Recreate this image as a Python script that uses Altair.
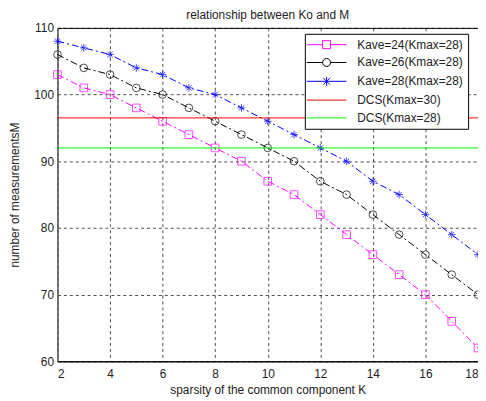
import altair as alt
import pandas as pd

k_values = list(range(2, 19))
kave24 = [103, 101, 100, 98, 96, 94, 92, 90, 87, 85, 82, 79, 76, 73, 70, 66, 62]
kave26 = [106, 104, 103, 101, 100, 98, 96, 94, 92, 90, 87, 85, 82, 79, 76, 73, 70]
kave28 = [108, 107, 106, 104, 103, 101, 100, 98, 96, 94, 92, 90, 87, 85, 82, 79, 76]
curve_names = ["Kave=24(Kmax=28)", "Kave=26(Kmax=28)", "Kave=28(Kmax=28)"]
dcs_names = ["DCS(Kmax=30)", "DCS(Kmax=28)"]
dcs_levels = [96.5, 92.0]
series_names = curve_names + dcs_names
colors = ["#ff00ff", "#000000", "#0000ff", "#ff0000", "#00ff00"]

STAR = "M-1,0H1M0,-1V1M-0.7,-0.7L0.7,0.7M-0.7,0.7L0.7,-0.7"
marker_shapes = ["square", "circle", STAR]

# legend symbols: line with marker in the middle (unit = 5px)
LEG_SQ = "M-4,0H-0.8M0.8,0H4M-0.8,-0.8H0.8V0.8H-0.8Z"
LEG_CI = "M-4,0H-0.8M0.8,0H4M0.8,0A0.8,0.8 0 1,1 -0.8,0A0.8,0.8 0 1,1 0.8,0"
LEG_ST = "M-4,0H4M0,-0.9V0.9M-0.65,-0.65L0.65,0.65M-0.65,0.65L0.65,-0.65"
LEG_LN = "M-4,0H4"

rows = []
for name, vals in zip(curve_names, [kave24, kave26, kave28]):
    for k, m in zip(k_values, vals):
        rows.append({"K": k, "M": m, "series": name})
curves = pd.DataFrame(rows)
dcs = pd.DataFrame({"M": dcs_levels, "series": dcs_names})

FONT = "Liberation Sans"

shape_expr = (
    f"datum.value === '{curve_names[0]}' ? '{LEG_SQ}' : "
    f"datum.value === '{curve_names[1]}' ? '{LEG_CI}' : "
    f"datum.value === '{curve_names[2]}' ? '{LEG_ST}' : '{LEG_LN}'"
)

color_scale = alt.Scale(domain=series_names, range=colors)
x_scale = alt.Scale(domain=[2, 18], nice=False)
y_scale = alt.Scale(domain=[60, 110], nice=False)

legend = alt.Legend(
    title=None,
    orient="none",
    legendX=250,
    legendY=6,
    padding=5,
    strokeColor="#000000",
    fillColor="#ffffff",
    labelFont=FONT,
    labelFontSize=12,
    labelColor="#222222",
    symbolSize=100,
    symbolStrokeWidth=1,
    symbolFillColor="transparent",
    symbolOffset=11,
    labelOffset=25,
    rowPadding=6,
    values=series_names,
    symbolType=alt.ExprRef(shape_expr),
)

x_enc = alt.X(
    "K:Q",
    scale=x_scale,
    axis=alt.Axis(
        title="sparsity of the common component K",
        values=list(range(2, 19, 2)),
    ),
)
y_enc = alt.Y(
    "M:Q",
    scale=y_scale,
    axis=alt.Axis(
        title="number of measurementsM",
        values=list(range(60, 111, 5)),
    ),
)

lines = alt.Chart(curves).mark_line(strokeWidth=1, strokeDash=[7, 3, 2, 3]).encode(
    x=x_enc,
    y=y_enc,
    color=alt.Color("series:N", scale=color_scale, legend=legend),
    detail="series:N",
)

points = alt.Chart(curves).mark_point(size=60, strokeWidth=1, filled=False).encode(
    x=alt.X("K:Q", scale=x_scale),
    y=alt.Y("M:Q", scale=y_scale),
    color=alt.Color("series:N", scale=color_scale, legend=None),
    shape=alt.Shape("series:N", scale=alt.Scale(domain=curve_names, range=marker_shapes), legend=None),
)

rules = alt.Chart(dcs).mark_rule(strokeWidth=1).encode(
    y=alt.Y("M:Q", scale=y_scale),
    color=alt.Color("series:N", scale=color_scale, legend=None),
)

chart = (
    alt.layer(lines, points, rules)
    .properties(
        width=425,
        height=337,
        title=alt.TitleParams(
            "relationship between Ko and M",
            font=FONT,
            fontSize=12,
            fontWeight="normal",
            color="#222222",
            frame="group",
            offset=0,
        ),
        autosize=alt.AutoSizeParams(type="none"),
        padding={"left": 50, "top": 18, "right": 0, "bottom": 36},
    )
    .configure_view(stroke="#000000", strokeWidth=1)
    .configure_axis(
        labelFont=FONT,
        labelFontSize=12,
        labelColor="#222222",
        titleFont=FONT,
        titleFontSize=12,
        titleFontWeight="normal",
        titleColor="#222222",
        domainColor="#000000",
        ticks=False,
        labelPadding=4,
        grid=True,
        gridColor="#000000",
        gridOpacity=0.7,
        gridDash=[3, 3],
        gridWidth=1,
    )
    .configure_axisY(titlePadding=12, domainColor="#777777")
    .configure_axisX(titlePadding=6, labelPadding=7)
)

chart.save("out.html", embed_options={"renderer": "svg", "actions": False})
